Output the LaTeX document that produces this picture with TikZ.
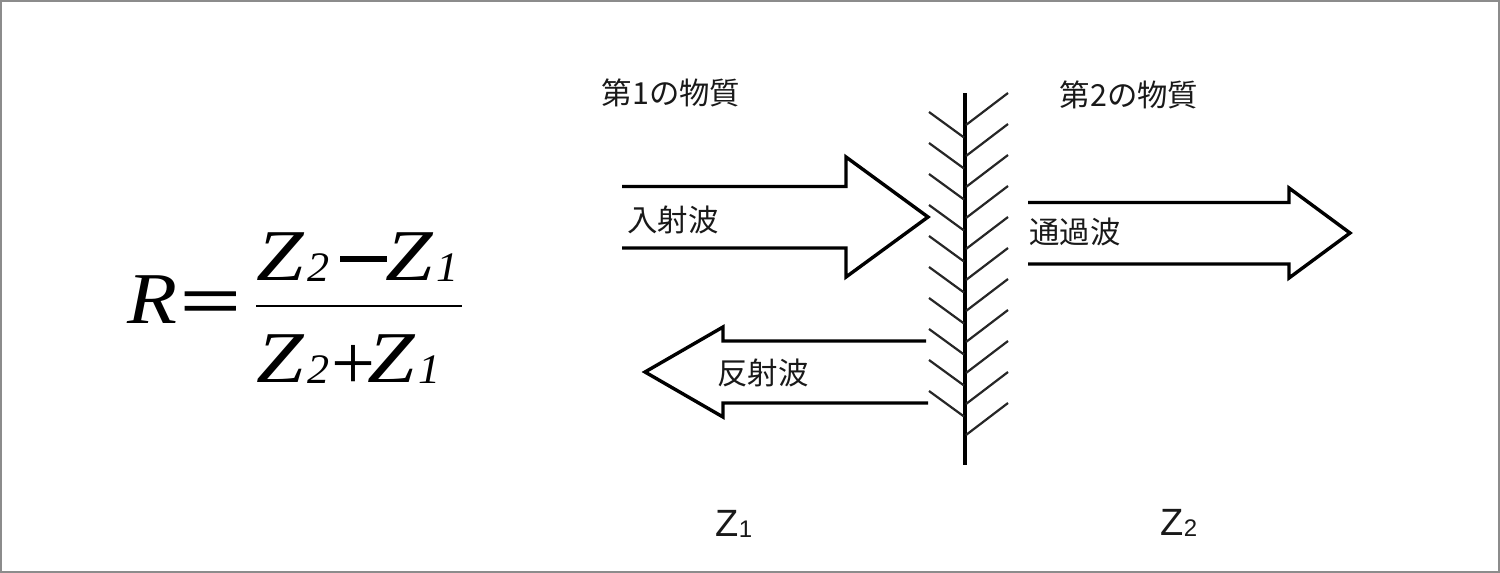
\documentclass[tikz,border=0pt]{standalone}
\usepackage{fontspec}
\setmainfont{Liberation Serif}
\newfontfamily\cjk{Noto Sans CJK JP}
\newfontfamily\lsans{Liberation Sans}
\newfontfamily\heavyserif[FakeBold=1.6]{Liberation Serif}
\newcommand{\wideZ}{\scalebox{1.17}[1]{\itshape\fontsize{73}{73}\selectfont Z}}
\newcommand{\subnum}[1]{\scalebox{1.05}[1]{\itshape\fontsize{42}{42}\selectfont #1}}
\tikzset{
  x=1pt,y=-1pt,
  waveoutline/.style={draw=black,line width=3.4pt,line join=miter,line cap=butt},
  hatch/.style={draw=black!85,line width=2.2pt},
  wall/.style={draw=black,line width=4.4pt},
  label/.style={inner sep=0pt,font=\cjk\fontsize{30.4}{30.4}\selectfont,black!90},
  zlabel/.style={inner sep=0pt,font=\lsans\fontsize{38}{38}\selectfont,black!90},
  formula/.style={inner sep=0pt,anchor=base west},
}
\begin{document}
\begin{tikzpicture}
\useasboundingbox (0,0) rectangle (1500,573);
\draw[draw=black!45,line width=2pt] (1,1) rectangle (1499,572);
% wall
\coordinate (walltop) at (965,93);
\coordinate (wallbot) at (965,465);
\draw[wall] (walltop) -- (wallbot);
\foreach \k in {0,...,9}{
  \draw[hatch] (929,112+31*\k) -- (964,137.5+31*\k);
}
\foreach \k in {0,...,10}{
  \draw[hatch] (966,125+31*\k) -- (1008,93+31*\k);
}
% arrows
\draw[waveoutline] (622,186.5) -- (846,186.5) -- (846,157) -- (928,217) -- (846,277) -- (846,248) -- (622,248);
\draw[waveoutline] (1028,202.5) -- (1289,202.5) -- (1289,188) -- (1350,233) -- (1289,278) -- (1289,264) -- (1028,264);
\draw[waveoutline] (926,341) -- (723,341) -- (723,327) -- (645,372) -- (723,417) -- (723,403) -- (928,403);
% labels
\node[label] (mat1) at (671,93) {第1の物質};
\node[label] (mat2) at (1129,95) {第2の物質};
\node[label] (inc) at (673,220) {入射波};
\node[label] (trans) at (1075,232) {通過波};
\node[label] (refl) at (763,373) {反射波};
\node[zlabel] (z1) at (734,524) {Z\raisebox{-1pt}{\fontsize{24}{24}\selectfont 1}};
\node[zlabel] (z2) at (1179,523) {Z\raisebox{-1pt}{\fontsize{24}{24}\selectfont 2}};
% formula
\node[formula] (r) at (127,323) {\scalebox{1.12}[1]{\itshape\fontsize{73}{73}\selectfont R}};
\node[formula] (eq) at (180,325) {\scalebox{1.25}[0.85]{\heavyserif\fontsize{85}{85}\selectfont =}};
\node[formula] (nz2) at (256,280) {\wideZ};
\node[formula] (n2) at (307,281) {\subnum{2}};
\node[formula] (minus) at (340,280) {\rule[18pt]{47pt}{6pt}};
\node[formula] (nz1) at (385,280) {\wideZ};
\node[formula] (n1) at (436,281) {\subnum{1}};
\node[formula] (dz2) at (256,382) {\wideZ};
\node[formula] (d2) at (307,383) {\subnum{2}};
\node[formula] (plus) at (339,389) {\makebox[28pt][c]{\itshape\fontsize{78}{78}\selectfont +}};
\node[formula] (dz1) at (367,382) {\wideZ};
\node[formula] (d1) at (418,383) {\subnum{1}};
\coordinate (barl) at (256,306);
\coordinate (barr) at (462,306);
\draw[black,line width=1.6pt] (barl) -- (barr);
\end{tikzpicture}
\end{document}
